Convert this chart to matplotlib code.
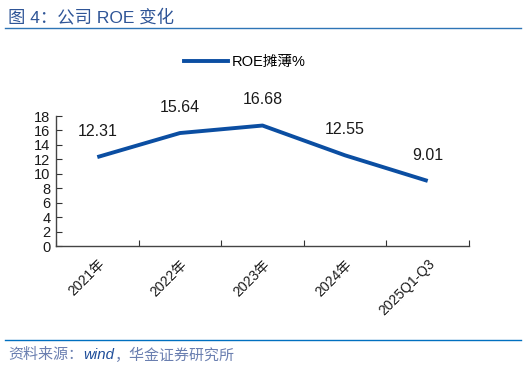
import matplotlib
matplotlib.use("Agg")
import matplotlib.pyplot as plt
from matplotlib.lines import Line2D

plt.rcParams['font.family'] = ['Liberation Sans', 'Noto Sans CJK SC', 'DejaVu Sans']

categories = ['2021年', '2022年', '2023年', '2024年', '2025Q1-Q3']
roe = [12.31, 15.64, 16.68, 12.55, 9.01]
yticks = [0, 2, 4, 6, 8, 10, 12, 14, 16, 18]
series_name = 'ROE摊薄%'
title = '图 4：公司 ROE 变化'
source_a = '资料来源：'
source_b = 'wind'
source_c = '，华金证券研究所'

line_color = '#0b4ea2'

fig = plt.figure(figsize=(5.27, 3.69), dpi=100)
ax = fig.add_axes([56/527, 1-246/369, (469-56)/527, (246-116)/369])

x = list(range(len(categories)))
ax.plot(x, roe, color=line_color, lw=2.8, solid_capstyle='butt')
for xi, v in zip(x, roe):
    ax.annotate(f'{v:.2f}', (xi, v), xytext=(0, 13), textcoords='offset points',
                ha='center', va='bottom', fontsize=11.5, color='#1a1a1a')

ax.set_xlim(-0.5, len(categories) - 0.5)
ax.set_ylim(0, 18)
ax.set_yticks(yticks)
ax.set_yticklabels([str(t) for t in yticks], fontsize=10.5, color='#1a1a1a')
ax.set_xticks([i - 0.5 for i in range(len(categories) + 1)])
ax.set_xticklabels([])
ax.set_xticks(x, minor=True)
ax.set_xticklabels(categories, minor=True, rotation=45, ha='right', va='top',
                   rotation_mode='anchor', fontsize=10, color='#1a1a1a')
ax.tick_params(axis='x', which='minor', length=0, pad=8)
ax.tick_params(axis='x', which='major', direction='in', length=4, color='#333333')
ax.tick_params(axis='y', direction='in', length=4, color='#333333', pad=4)
for s in ['top', 'right']:
    ax.spines[s].set_visible(False)
for s in ['left', 'bottom']:
    ax.spines[s].set_color('#444444')
    ax.spines[s].set_linewidth(1.0)

handle = Line2D([], [], color=line_color, lw=2.8)
fig.legend([handle], [series_name], loc='center', bbox_to_anchor=(245/527, 1-62/369),
           frameon=False, fontsize=10.5, handlelength=3.0, handletextpad=0.3)

fig.text(8/527, 1-17/369, title, fontsize=12.5, color='#2f5597', va='center', ha='left')
fig.add_artist(Line2D([5/527, 521/527], [1-28/369, 1-28/369], color='#2e75b6', lw=1.0))
fig.add_artist(Line2D([5/527, 521/527], [1-340/369, 1-340/369], color='#0070c0', lw=1.0))

fs = 10.8
t1 = fig.text(8/527, 1-355/369, source_a, fontsize=fs, color='#6a7fb0', style='italic',
              va='center', ha='left')
fig.canvas.draw()
r = fig.canvas.get_renderer()
bb = t1.get_window_extent(r)
t2 = fig.text(bb.x1/fig.bbox.width, 1-355/369, source_b, fontsize=fs, color='#1f4e9a',
              style='italic', va='center', ha='left')
bb2 = t2.get_window_extent(r)
fig.text(bb2.x1/fig.bbox.width, 1-355/369, source_c, fontsize=fs, color='#6a7fb0',
         style='italic', va='center', ha='left')

fig.savefig('out.png', dpi=100)
